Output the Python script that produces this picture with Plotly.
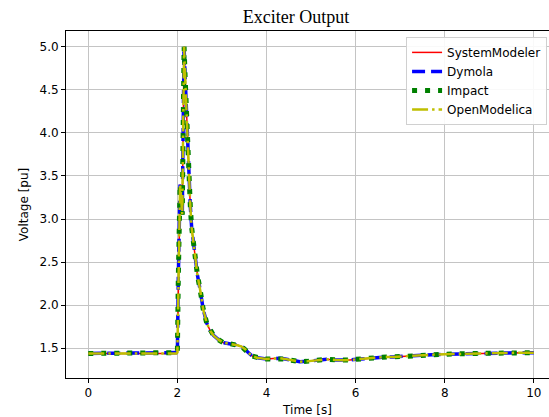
import plotly.graph_objects as go

# Time [s]
time_s = [0.0, 0.5, 1.0, 1.5, 1.98, 2.0, 2.02, 2.04, 2.06, 2.09, 2.11, 2.12, 2.135, 2.15,
          2.17, 2.19, 2.22, 2.26, 2.29, 2.32, 2.39, 2.45, 2.51, 2.58, 2.66, 2.74, 2.81,
          2.92, 3.03, 3.15, 3.25, 3.35, 3.44, 3.52, 3.59, 3.68, 3.78, 3.9, 4.0, 4.15,
          4.3, 4.42, 4.53, 4.65, 4.75, 4.9, 5.05, 5.2, 5.35, 5.55, 5.72, 5.87, 6.02,
          6.2, 6.39, 6.6, 6.84, 7.1, 7.37, 7.7, 8.0, 8.4, 8.86, 9.4, 10.0]

# Voltage [pu] (all four tools overlap)
voltage_pu = [1.44, 1.44, 1.44, 1.44, 1.44, 1.45, 2.3, 3.2, 3.4, 3.2, 3.05, 3.6, 4.6, 5.0,
              4.7, 4.4, 4.0, 3.5, 3.15, 2.9, 2.56, 2.35, 2.18, 1.95, 1.79, 1.70, 1.65,
              1.60, 1.565, 1.555, 1.55, 1.535, 1.52, 1.49, 1.45, 1.41, 1.39, 1.378, 1.376, 1.38,
              1.384, 1.375, 1.364, 1.35, 1.345, 1.348, 1.356, 1.365, 1.372, 1.365, 1.36, 1.365, 1.372,
              1.382, 1.39, 1.396, 1.40, 1.41, 1.418, 1.425, 1.43, 1.437, 1.442, 1.446, 1.449]

series_names = ["SystemModeler", "Dymola", "Impact", "OpenModelica"]
series_values = {
    "SystemModeler": voltage_pu,
    "Dymola": voltage_pu,
    "Impact": voltage_pu,
    "OpenModelica": voltage_pu,
}
styles = {
    "SystemModeler": dict(color="#ff0000", width=1.5, dash="solid"),
    "Dymola": dict(color="#0000ff", width=3.5, dash="13px,6px"),
    "Impact": dict(color="#008000", width=5, dash="5px,8px"),
    "OpenModelica": dict(color="#bfbf00", width=2.5, dash="16px,4px,2.5px,4px"),
}

x_ticks = [0, 2, 4, 6, 8, 10]
y_ticks = [1.5, 2.0, 2.5, 3.0, 3.5, 4.0, 4.5, 5.0]

fig = go.Figure()
for name in series_names:
    fig.add_trace(go.Scatter(x=time_s, y=series_values[name], mode="lines", name=name,
                             line=styles[name]))

font_sans = "DejaVu Sans"
fig.update_layout(
    width=549, height=417,
    margin=dict(l=66, r=0, t=31, b=39),
    plot_bgcolor="white", paper_bgcolor="white",
    font=dict(family=font_sans, size=12, color="black"),
    title=dict(text="Exciter Output", x=296 / 549, xanchor="center", xref="container",
               y=1 - 17 / 417, yanchor="middle", yref="container",
               font=dict(family="Liberation Serif", size=18, color="black")),
    showlegend=True,
    legend=dict(x=0.996, xanchor="right", y=0.983, yanchor="top",
                bgcolor="rgba(255,255,255,0.9)", bordercolor="#d0d0d0", borderwidth=1,
                font=dict(family=font_sans, size=12), tracegroupgap=0,
                itemwidth=30),
)
fig.update_xaxes(
    range=[-0.5, 10.34], tickvals=x_ticks, ticktext=[str(v) for v in x_ticks],
    showgrid=True, gridcolor="#c4c4c4", gridwidth=1, zeroline=False,
    showline=True, linecolor="black", linewidth=1, mirror=True,
    ticks="outside", ticklen=4, tickcolor="black",
    title=dict(text="Time [s]", standoff=6, font=dict(size=12)),
)
fig.update_yaxes(
    range=[1.155, 5.182], tickvals=y_ticks, ticktext=[f"{v:.1f}" for v in y_ticks],
    showgrid=True, gridcolor="#c4c4c4", gridwidth=1, zeroline=False,
    showline=True, linecolor="black", linewidth=1, mirror=False,
    ticks="outside", ticklen=4, tickcolor="black",
    title=dict(text="Voltage [pu]", standoff=8, font=dict(size=12)),
)

fig.write_html("out.html")
